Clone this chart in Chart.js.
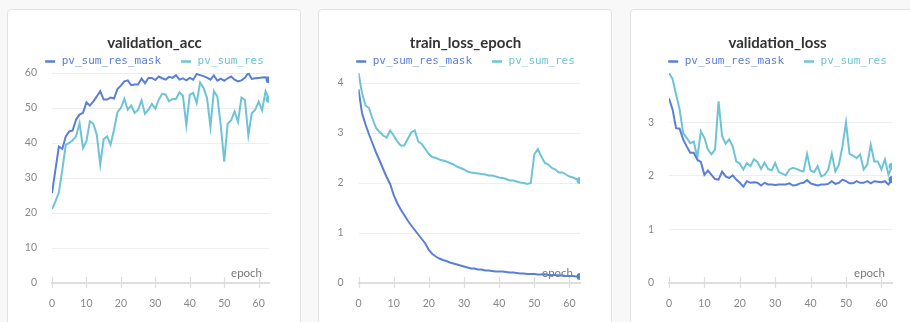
<!DOCTYPE html>
<html>
<head>
<meta charset="utf-8">
<script src="https://cdn.jsdelivr.net/npm/chart.js@4.4.1/dist/chart.umd.min.js"></script>
<style>
    html, body { margin: 0; padding: 0; background: #f8f8f8; }
    body { width: 910px; height: 322px; position: relative; overflow: hidden; }
    .card {
        position: absolute;
        top: 9px;
        width: 292px;
        height: 330px;
        background: #fff;
        border: 1px solid #e3e3e3;
        border-radius: 4px;
    }
    .card canvas { position: absolute; left: 0; top: 0; }
</style>
</head>
<body>
<div class="card" style="left: 7px;"><canvas id="chart1" width="293" height="313"></canvas></div>
<div class="card" style="left: 318px;"><canvas id="chart2" width="293" height="313"></canvas></div>
<div class="card" style="left: 630px;"><canvas id="chart3" width="293" height="313"></canvas></div>
<script>
const epochs = [0, 1, 2, 3, 4, 5, 6, 7, 8, 9, 10, 11, 12, 13, 14, 15, 16, 17, 18, 19,
    20, 21, 22, 23, 24, 25, 26, 27, 28, 29, 30, 31, 32, 33, 34, 35, 36, 37, 38, 39,
    40, 41, 42, 43, 44, 45, 46, 47, 48, 49, 50, 51, 52, 53, 54, 55, 56, 57, 58, 59,
    60, 61, 62, 63];

const seriesNames = ['pv_sum_res_mask', 'pv_sum_res'];

// validation_acc
const accMask = [25.7, 32.4, 39, 38.3, 41.9, 43.3, 43.6, 46.7, 48.1, 48.6,
    51.6, 50.7, 51.9, 53.3, 54.8, 52.4, 52.4, 53, 52.7, 55.4,
    56.4, 57.6, 57.9, 56.5, 56.7, 56.7, 58.4, 57.1, 58.6, 58.6,
    58, 59, 58.5, 58.1, 58.9, 58.6, 59.4, 58.1, 58.5, 57.9,
    58.6, 58.1, 59.7, 59.4, 59.1, 58.7, 58.1, 59.3, 57.8, 58.4,
    57.8, 58.5, 59, 58.1, 57.6, 57.9, 58.6, 60, 58.3, 58.5,
    58.6, 58.7, 58.8, 58.1];
const accRes = [21.1, 23.3, 25.9, 32.4, 39.5, 40, 40.8, 41.9, 45.7, 38.6,
    40.5, 46.2, 45.5, 42.4, 33.8, 41.1, 41.9, 39.5, 43.8, 48.8,
    50, 52.6, 49.5, 50.7, 48.6, 49.5, 52.2, 48.3, 49.5, 51.2,
    49.8, 52.4, 54.1, 53.8, 51.9, 52.6, 52.6, 54.5, 53.5, 45.1,
    53.8, 54.3, 51.4, 57.3, 55.7, 52.9, 44.6, 54.8, 53.3, 45,
    34.7, 45.5, 46.5, 49, 46, 53, 52.3, 42.2, 48.5, 49.5,
    51.8, 49.3, 54.8, 52.5];

// train_loss_epoch
const trainMask = [3.87, 3.4, 3.17, 2.97, 2.79, 2.61, 2.45, 2.28, 2.12, 1.98,
    1.76, 1.6, 1.47, 1.36, 1.25, 1.15, 1.06, 0.97, 0.88, 0.79,
    0.66, 0.58, 0.53, 0.49, 0.46, 0.44, 0.41, 0.39, 0.37, 0.35,
    0.33, 0.31, 0.29, 0.29, 0.27, 0.27, 0.25, 0.25, 0.24, 0.23,
    0.23, 0.23, 0.22, 0.21, 0.21, 0.2, 0.19, 0.19, 0.18, 0.18,
    0.18, 0.17, 0.17, 0.17, 0.16, 0.16, 0.16, 0.15, 0.15, 0.14,
    0.14, 0.14, 0.13, 0.13];
const trainRes = [4.2, 3.8, 3.55, 3.5, 3.28, 3.1, 3.02, 2.95, 2.91, 3.05,
    2.95, 2.83, 2.75, 2.75, 2.88, 3.01, 3.05, 2.83, 2.78, 2.68,
    2.58, 2.52, 2.5, 2.47, 2.45, 2.43, 2.4, 2.37, 2.33, 2.3,
    2.27, 2.23, 2.21, 2.2, 2.19, 2.18, 2.17, 2.15, 2.15, 2.13,
    2.11, 2.1, 2.08, 2.05, 2.05, 2.03, 2.01, 2.0, 1.98, 2.0,
    2.57, 2.68, 2.53, 2.4, 2.37, 2.3, 2.27, 2.21, 2.21, 2.17,
    2.13, 2.11, 2.08, 2.05];

// validation_loss
const valMask = [3.45, 3.24, 2.89, 2.88, 2.68, 2.55, 2.43, 2.43, 2.3, 2.26,
    2.02, 2.1, 2.02, 1.94, 1.93, 2.08, 1.99, 1.96, 2.01, 1.93,
    1.87, 1.8, 1.9, 1.87, 1.88, 1.87, 1.82, 1.87, 1.84, 1.84,
    1.83, 1.84, 1.84, 1.84, 1.86, 1.82, 1.83, 1.86, 1.87, 1.92,
    1.86, 1.84, 1.82, 1.84, 1.84, 1.85, 1.9, 1.85, 1.87, 1.93,
    1.9, 1.86, 1.86, 1.9, 1.87, 1.87, 1.9, 1.86, 1.9, 1.89,
    1.88, 1.9, 1.84, 1.93];
const valRes = [3.92, 3.81, 3.52, 3.24, 2.8, 2.71, 2.61, 2.64, 2.34, 2.83,
    2.71, 2.49, 2.4, 2.49, 3.39, 2.74, 2.6, 2.68, 2.55, 2.27,
    2.23, 2.12, 2.24, 2.18, 2.31, 2.26, 2.13, 2.25, 2.13, 2.1,
    2.24, 2.07, 2.04, 2.01, 2.12, 2.15, 2.13, 2.1, 2.08, 2.41,
    2.1, 2.07, 2.18, 1.99, 2.02, 2.12, 2.41, 2.08, 2.21, 2.55,
    3.0, 2.41, 2.38, 2.33, 2.4, 2.12, 2.21, 2.58, 2.27, 2.27,
    2.12, 2.31, 2.02, 2.18];

const xTicks = [0, 10, 20, 30, 40, 50, 60];

const colors = ['#5a7fd6', '#6ec4d6'];
const sansFont = 'Lato';
const monoFont = '"DejaVu Sans Mono"';

// title and legend drawn above the plot, centred in the card
const headerBlock = {
    id: 'headerBlock',
    afterDraw(chart, args, opts) {
        const ctx = chart.ctx;
        const cx = chart.width / 2;
        ctx.save();
        ctx.textBaseline = 'middle';
        ctx.textAlign = 'center';
        ctx.font = 'bold 15px ' + sansFont;
        ctx.fillStyle = '#333';
        ctx.fillText(opts.text, cx, 33);

        ctx.textAlign = 'left';
        ctx.font = '11px ' + monoFont;
        const items = chart.data.datasets.map(ds => ({
            text: ds.label,
            color: ds.borderColor,
            w: 10 + 6.5 + ctx.measureText(ds.label).width
        }));
        const gap = 20;
        const total = items.reduce((s, it) => s + it.w, 0) + gap * (items.length - 1);
        let x = cx - total / 2;
        const y = 51.5;
        items.forEach(it => {
            ctx.strokeStyle = it.color;
            ctx.lineWidth = 2.5;
            ctx.beginPath();
            ctx.moveTo(x, y);
            ctx.lineTo(x + 10, y);
            ctx.stroke();
            ctx.fillStyle = it.color;
            ctx.fillText(it.text, x + 16.5, y);
            x += it.w + gap;
        });
        ctx.restore();
    }
};

// short ticks crossing the x axis line, and the "epoch" label
const axisMarks = {
    id: 'axisMarks',
    beforeDatasetsDraw(chart) {
        const ctx = chart.ctx;
        const area = chart.chartArea;
        const xs = chart.scales.x;
        ctx.save();
        ctx.strokeStyle = '#dcdcdc';
        ctx.lineWidth = 1.2;
        xs.ticks.forEach(t => {
            const px = Math.round(xs.getPixelForValue(t.value)) + 0.5;
            ctx.beginPath();
            ctx.moveTo(px, area.bottom - 6);
            ctx.lineTo(px, area.bottom + 5);
            ctx.stroke();
        });
        ctx.font = '11.5px ' + sansFont;
        ctx.fillStyle = '#777';
        ctx.textAlign = 'right';
        ctx.textBaseline = 'middle';
        ctx.fillText('epoch', area.right - 7, area.bottom - 10);
        ctx.restore();
    }
};

function makeChart(canvasId, title, maskData, resData, yStep, yAxisWidth) {
    const ctx = document.getElementById(canvasId).getContext('2d');
    const last = epochs.length - 1;
    const yMax = Math.max(...maskData, ...resData);

    const datasets = [maskData, resData].map((data, i) => ({
        label: seriesNames[i],
        data: data,
        borderColor: colors[i],
        backgroundColor: colors[i],
        borderWidth: 2,
        tension: 0,
        pointRadius: c => (c.dataIndex === last ? 3.5 : 0),
        pointHoverRadius: 0,
        pointBorderWidth: 0
    }));

    const config = {
        type: 'line',
        data: {
            labels: epochs,
            datasets: datasets
        },
        options: {
            responsive: false,
            animation: false,
            layout: {
                padding: { left: 0, right: 32, top: 63, bottom: 0 }
            },
            plugins: {
                legend: { display: false },
                tooltip: { enabled: false },
                title: { display: false },
                headerBlock: { text: title }
            },
            scales: {
                x: {
                    type: 'linear',
                    min: 0,
                    max: last,
                    afterBuildTicks: axis => {
                        axis.ticks = xTicks.map(v => ({ value: v }));
                    },
                    grid: { display: false, drawTicks: false },
                    border: { display: true, color: '#dedede', width: 2 },
                    ticks: {
                        color: '#888',
                        font: { family: sansFont, size: 10.5 },
                        padding: 14,
                        maxRotation: 0
                    },
                    afterFit: axis => { axis.height = 40; }
                },
                y: {
                    min: 0,
                    max: yMax,
                    grid: { color: '#eeeeee', drawTicks: false },
                    border: { display: false },
                    ticks: {
                        stepSize: yStep,
                        includeBounds: false,
                        color: '#888',
                        font: { family: sansFont, size: 10.5 },
                        padding: 15
                    },
                    afterFit: axis => { axis.width = yAxisWidth; }
                }
            }
        },
        plugins: [axisMarks, headerBlock]
    };

    new Chart(ctx, config);
}

makeChart('chart1', 'validation_acc', accMask, accRes, 10, 44);
makeChart('chart2', 'train_loss_epoch', trainMask, trainRes, 1, 39.5);
makeChart('chart3', 'validation_loss', valMask, valRes, 1, 38);
</script>
</body>
</html>
